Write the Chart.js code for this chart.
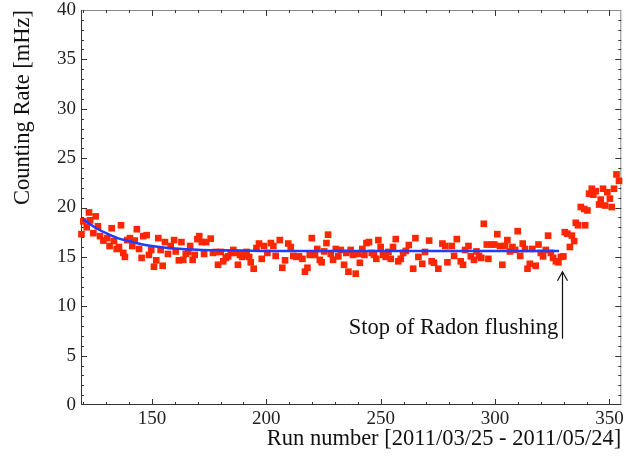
<!DOCTYPE html>
<html><head><meta charset="utf-8">
<script src="https://cdn.jsdelivr.net/npm/chart.js@4"></script>
<style>html,body{margin:0;padding:0;background:#fff}#wrap{width:626px;height:457px}</style>
</head><body><div id="wrap"><canvas id="c" width="626" height="457"></canvas></div>
<script>
// ---- data ----
const runs = [
119.2,120,121.5,122.5,123,124.4,125.4,126.4,127.3,128.8,130.5,131.5,132.4,133.4,134.6,135.6,136.5,137.5,138.2,139.2,
140.4,141.4,142.5,143.4,144.4,145.5,146.2,147.7,148.7,149.7,150.9,151.9,152.8,153.8,154.7,155.7,157,158.2,159.7,160.4,
161.8,162.9,163.7,164.8,165.9,166.7,167.8,168.7,169.9,170.7,171.8,172.8,173.7,175.7,176.7,177.9,178.9,180.1,181.2,182.3,
183.3,184.5,185.6,186.6,187.6,188.5,189.5,190.6,191.4,192.5,193.2,194.5,195.7,196.8,198,199,200.5,202,203.1,204.1,
205.9,207,208.2,209.6,210.7,211.8,213.1,214.3,215.8,216.9,218,219,219.9,221.3,222.3,223.4,224.2,225.3,226.3,227,
228.2,229.2,230.4,231.5,232.6,234,235,235.9,236.9,237.9,239.1,240,240.9,242,242.9,243.8,244.9,246.1,247.1,248.1,
249,250,251,252.2,253.4,254.4,255.4,256.6,257.7,258.8,259.8,261,262.3,264.2,265.2,266.5,268.2,269.4,271.2,272.3,
273.3,275.2,277,278.2,279.2,281.1,282.1,283.3,285,286,286.9,288.4,289.4,290.8,291.9,293,294,295.1,296.4,297.1,
298.6,299.7,301,302.2,303.2,304.4,305.4,306.5,307.6,308.8,309.9,311,312.1,313.1,314.2,315.2,316.3,317.8,319,320,
321,322.2,323.2,324.4,325.4,326.6,327.7,328.8,329.9,330.5,331.6,332.7,333.6,334.6,335.3,336.3,337.5,339,339.4,340.4,
341.1,342.3,343,344,345.5,346.2,347.2,348.1,349.1,350.2,351,352,353.1,354.2
];
const rates = [
17.3,18.6,18.0,19.5,18.7,17.4,19.1,18.1,17.1,16.65,16.9,16.1,17.9,16.6,15.8,16.0,18.2,15.4,15.0,16.7,
16.9,16.1,16.65,17.8,15.8,14.9,17.1,17.2,15.2,15.7,14.0,14.65,16.9,15.7,14.1,16.5,15.3,16.1,16.7,15.55,
14.65,16.5,14.7,15.3,15.5,16.1,14.7,15.2,16.8,17.1,16.5,15.3,16.5,16.85,15.4,15.5,14.2,15.5,14.55,14.9,
15.05,15.4,15.7,15.4,14.2,15.2,15.0,15.2,15.5,15.0,14.45,13.8,15.9,16.35,14.8,16.1,15.4,16.4,16.1,15.1,
16.7,13.9,14.65,16.35,16.0,15.1,15.0,15.05,14.8,13.5,13.9,15.2,16.9,15.2,15.8,14.7,14.45,15.55,16.4,17.25,
15.3,14.7,15.8,15.05,15.7,14.2,15.4,13.5,15.7,15.2,13.3,15.3,14.4,15.8,15.2,16.4,16.5,15.4,15.2,14.8,
16.7,16.0,15.2,15.0,15.5,14.8,16.0,16.8,14.55,14.8,15.4,15.6,16.2,13.8,16.9,15.0,14.3,15.5,16.65,14.55,
14.4,13.8,16.35,16.1,14.45,16.1,15.1,16.8,14.55,14.2,15.7,16.1,15.05,14.7,15.55,15.1,14.9,18.35,16.25,14.8,
16.25,16.25,17.3,16.1,14.2,16.1,16.7,15.55,16.0,15.7,17.6,15.1,16.35,15.8,13.8,14.3,15.8,14.1,16.25,15.4,
15.05,15.7,17.15,15.4,14.9,14.55,14.45,15.0,15.05,17.5,17.35,16.0,17.15,16.6,18.45,18.2,20.05,19.85,18.2,19.7,
21.4,21.9,21.3,21.65,20.3,20.8,21.9,20.2,21.55,20.9,20.05,21.9,23.35,22.7
];
const fitRuns  = [120, 125, 130, 135, 140, 145, 150, 155, 160, 170, 180, 190, 200, 328];
const fitRates = [18.8, 18.0, 17.4, 16.9, 16.6, 16.3, 16.1, 15.95, 15.85, 15.72, 15.66, 15.63, 15.6, 15.6];
const xTickLabels = [150, 200, 250, 300, 350];
const yTickLabels = [0, 5, 10, 15, 20, 25, 30, 35, 40];
const xMinorTicks = [120,130,140,160,170,180,190,210,220,230,240,260,270,280,290,310,320,330,340];
const yMinorTicks = [1,2,3,4,6,7,8,9,11,12,13,14,16,17,18,19,21,22,23,24,26,27,28,29,31,32,33,34,36,37,38,39];
const xTitle = 'Run number [2011/03/25 - 2011/05/24]';
const yTitle = 'Counting Rate [mHz]';
const noteText = 'Stop of Radon flushing';
const noteRun = 329.4;

const SERIF = '"Liberation Serif", "Times New Roman", serif';

const framePlugin = {
  id: 'frame',
  beforeDatasetsDraw(chart) {
    const {ctx, chartArea: a, scales: {x, y}} = chart;
    ctx.save();
    ctx.lineWidth = 1;
    ctx.strokeStyle = '#8a8a8a';
    ctx.beginPath();
    ctx.moveTo(a.left, a.top + 0.5); ctx.lineTo(a.right, a.top + 0.5);
    ctx.moveTo(a.right - 0.5, a.top); ctx.lineTo(a.right - 0.5, a.bottom);
    ctx.stroke();
    ctx.strokeStyle = '#333';
    ctx.beginPath();
    ctx.moveTo(a.left + 0.5, a.top); ctx.lineTo(a.left + 0.5, a.bottom);
    ctx.moveTo(a.left, a.bottom - 0.5); ctx.lineTo(a.right, a.bottom - 0.5);
    ctx.stroke();
    ctx.strokeStyle = '#333';
    ctx.beginPath();
    const xt = (v, len) => {
      const p = Math.round(x.getPixelForValue(v)) + 0.5;
      ctx.moveTo(p, a.bottom); ctx.lineTo(p, a.bottom - len);
      ctx.moveTo(p, a.top); ctx.lineTo(p, a.top + len);
    };
    const yt = (v, len) => {
      const p = Math.round(y.getPixelForValue(v)) + 0.5;
      ctx.moveTo(a.left, p); ctx.lineTo(a.left + len, p);
      ctx.moveTo(a.right, p); ctx.lineTo(a.right - len, p);
    };
    xTickLabels.forEach(v => xt(v, 6));
    xMinorTicks.forEach(v => xt(v, 3));
    yTickLabels.forEach(v => { if (v > 0 && v < 40) yt(v, 6); });
    yMinorTicks.forEach(v => yt(v, 3));
    ctx.stroke();
    ctx.restore();
  },
  afterDraw(chart) {
    const {ctx, scales: {x, y}} = chart;
    ctx.save();
    const px = Math.round(x.getPixelForValue(noteRun)) + 0.5;
    const tipY = y.getPixelForValue(13.5);
    const botY = y.getPixelForValue(6.7);
    ctx.strokeStyle = '#111';
    ctx.lineWidth = 1.2;
    ctx.beginPath();
    ctx.moveTo(px, botY); ctx.lineTo(px, tipY);
    ctx.moveTo(px - 5, tipY + 9); ctx.lineTo(px, tipY); ctx.lineTo(px + 5, tipY + 9);
    ctx.stroke();
    ctx.fillStyle = '#111';
    ctx.font = '22.5px ' + SERIF;
    ctx.textAlign = 'right';
    ctx.textBaseline = 'alphabetic';
    ctx.fillText(noteText, x.getPixelForValue(327.6), y.getPixelForValue(7.2));
    ctx.restore();
  }
};

new Chart(document.getElementById('c'), {
  type: 'scatter',
  data: {
    datasets: [
      {
        label: 'fit',
        data: fitRuns.map((r, i) => ({x: r, y: fitRates[i]})),
        showLine: true,
        borderColor: '#1f3cff',
        borderWidth: 2.6,
        pointRadius: 0,
        cubicInterpolationMode: 'monotone',
        order: 0
      },
      {
        label: 'rate',
        data: runs.map((r, i) => ({x: r, y: rates[i]})),
        pointStyle: 'rect',
        pointRadius: 4.7,
        backgroundColor: '#ff2600',
        borderColor: '#ff2600',
        borderWidth: 0,
        clip: false,
        order: 1
      }
    ]
  },
  options: {
    responsive: false,
    devicePixelRatio: 1,
    animation: false,
    layout: {padding: {top: 10, right: 4, left: 0, bottom: 0}},
    plugins: {legend: {display: false}, tooltip: {enabled: false}},
    scales: {
      x: {
        type: 'linear', position: 'bottom', min: 119, max: 355.2,
        grid: {display: false, drawTicks: false},
        border: {display: false},
        afterBuildTicks: s => { s.ticks = xTickLabels.map(v => ({value: v})); },
        ticks: {font: {family: SERIF, size: 19}, color: '#222', padding: 3, maxRotation: 0, autoSkip: false},
        title: {display: true, text: xTitle, align: 'end', color: '#111', font: {family: SERIF, size: 22.5}, padding: {top: 0, bottom: 4}},
        afterFit: s => { s.height = 52; s.paddingLeft = 0; s.paddingRight = 0; }
      },
      y: {
        type: 'linear', position: 'left', min: 0, max: 40,
        grid: {display: false, drawTicks: false},
        border: {display: false},
        afterBuildTicks: s => { s.ticks = yTickLabels.map(v => ({value: v})); },
        ticks: {font: {family: SERIF, size: 19}, color: '#222', padding: 5, autoSkip: false},
        title: {display: true, text: yTitle, align: 'end', color: '#111', font: {family: SERIF, size: 22.5}, padding: {top: 10, bottom: 0}},
        afterFit: s => { s.width = 81; s.paddingTop = 0; s.paddingBottom = 0; }
      }
    }
  },
  plugins: [framePlugin]
});
</script>
</body></html>
